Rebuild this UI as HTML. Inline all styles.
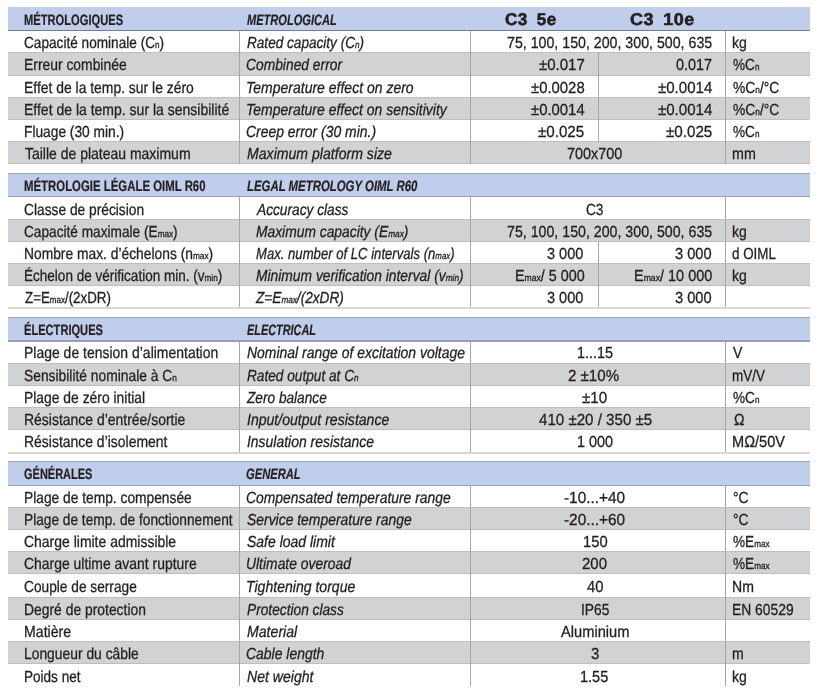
<!DOCTYPE html>
<html lang="fr">
<head>
<meta charset="utf-8">
<title>Caractéristiques techniques</title>
<style>
html,body{margin:0;padding:0;background:#fff;}
body{width:817px;height:691px;position:relative;overflow:hidden;font-family:"Liberation Sans",sans-serif;color:#231f20;}
.hd{position:absolute;left:8px;width:802px;background:#c0cdeb;box-sizing:border-box;border-top:1px solid #a0a8bc;border-bottom:1px solid #97a0b6;}
.hd.first{border-top:0;border-bottom-color:#767c8a;}
.g{position:absolute;left:8px;width:802px;background:#d1d2d4;box-sizing:border-box;border-top:1px solid #bcbec0;border-bottom:1px solid #bcbec0;}
.e{position:absolute;left:8px;width:802px;background:#d6d7d9;}
.v{position:absolute;width:1px;background:#a4a6a8;}
.t{position:absolute;white-space:nowrap;display:inline-block;line-height:1;transform-origin:0 50%;font-size:16.0px;-webkit-text-stroke:0.3px #231f20;}
.i{font-style:italic;}
.h{font-size:15.0px;font-weight:bold;-webkit-text-stroke:0.2px #231f20;}
.m{font-size:17.0px;font-weight:bold;word-spacing:3.5px;letter-spacing:0.5px;-webkit-text-stroke:0.55px #231f20;}
sub{font-size:60%;vertical-align:baseline;line-height:0;}
</style>
</head>
<body>
<div class="hd first" style="top:7px;height:24px;border-bottom-width:1px"></div>
<div class="g" style="top:52px;height:24px"></div>
<div class="g" style="top:97px;height:23px"></div>
<div class="g" style="top:141px;height:23px"></div>
<div class="v" style="left:598px;top:52px;height:24px"></div>
<div class="v" style="left:598px;top:76px;height:21px"></div>
<div class="v" style="left:598px;top:97px;height:23px"></div>
<div class="v" style="left:598px;top:120px;height:21px"></div>
<div class="v" style="left:239px;top:31px;height:133px"></div>
<div class="v" style="left:470px;top:31px;height:133px"></div>
<div class="v" style="left:725px;top:31px;height:133px"></div>
<div class="hd" style="top:173px;height:24px;border-bottom-width:1px"></div>
<div class="g" style="top:219px;height:23px"></div>
<div class="g" style="top:263px;height:23px"></div>
<div class="e" style="top:307px;height:2px"></div>
<div class="v" style="left:598px;top:242px;height:21px"></div>
<div class="v" style="left:598px;top:263px;height:23px"></div>
<div class="v" style="left:598px;top:286px;height:21px"></div>
<div class="v" style="left:239px;top:197px;height:110px"></div>
<div class="v" style="left:470px;top:197px;height:110px"></div>
<div class="v" style="left:725px;top:197px;height:110px"></div>
<div class="hd" style="top:317px;height:25px;border-bottom-width:2px"></div>
<div class="g" style="top:363px;height:23px"></div>
<div class="g" style="top:407px;height:23px"></div>
<div class="e" style="top:452px;height:2px"></div>
<div class="v" style="left:239px;top:342px;height:110px"></div>
<div class="v" style="left:470px;top:342px;height:110px"></div>
<div class="v" style="left:725px;top:342px;height:110px"></div>
<div class="hd" style="top:461px;height:25px;border-bottom-width:1px"></div>
<div class="g" style="top:507px;height:23px"></div>
<div class="g" style="top:551px;height:23px"></div>
<div class="g" style="top:597px;height:23px"></div>
<div class="g" style="top:641px;height:23px"></div>
<div class="v" style="left:239px;top:486px;height:200px"></div>
<div class="v" style="left:470px;top:486px;height:200px"></div>
<div class="v" style="left:725px;top:486px;height:200px"></div>
<span class="t h" style="left:23.76px;top:12px;transform:scaleX(0.7439) rotate(0.03deg)">MÉTROLOGIQUES</span>
<span class="t h i" style="left:246.9px;top:12px;transform:scaleX(0.7380) rotate(0.03deg)">METROLOGICAL</span>
<span class="t m" style="left:505px;top:11px;transform:scaleX(1.0059) rotate(0.03deg)">C3 5e</span>
<span class="t m" style="left:629.9px;top:11px;transform:scaleX(1.0583) rotate(0.03deg)">C3 10e</span>
<span class="t " style="left:23.65px;top:35px;transform:scaleX(0.8515) rotate(0.03deg)">Capacité nominale (C<sub>n</sub>)</span>
<span class="t i" style="left:246.9px;top:35px;transform:scaleX(0.8496) rotate(0.03deg)">Rated capacity (C<sub>n</sub>)</span>
<span class="t " style="left:506.71px;top:35px;transform:scaleX(0.8870) rotate(0.03deg)">75, 100, 150, 200, 300, 500, 635</span>
<span class="t " style="left:732.12px;top:35px;transform:scaleX(0.8800) rotate(0.03deg)">kg</span>
<span class="t " style="left:23.63px;top:57px;transform:scaleX(0.8675) rotate(0.03deg)">Erreur combinée</span>
<span class="t i" style="left:246.04px;top:57px;transform:scaleX(0.8640) rotate(0.03deg)">Combined error</span>
<span class="t " style="left:538.7px;top:57px;transform:scaleX(0.9375) rotate(0.03deg)">±0.017</span>
<span class="t " style="left:675.55px;top:57px;transform:scaleX(0.9013) rotate(0.03deg)">0.017</span>
<span class="t " style="left:733px;top:57px;transform:scaleX(0.8506) rotate(0.03deg)">%C<sub>n</sub></span>
<span class="t " style="left:23.63px;top:80px;transform:scaleX(0.8691) rotate(0.03deg)">Effet de la temp. sur le zéro</span>
<span class="t i" style="left:246.02px;top:80px;transform:scaleX(0.8753) rotate(0.03deg)">Temperature effect on zero</span>
<span class="t " style="left:530.7px;top:80px;transform:scaleX(0.9298) rotate(0.03deg)">±0.0028</span>
<span class="t " style="left:658px;top:80px;transform:scaleX(0.9404) rotate(0.03deg)">±0.0014</span>
<span class="t " style="left:733px;top:80px;transform:scaleX(0.8660) rotate(0.03deg)">%C<sub>n</sub>/°C</span>
<span class="t " style="left:23.62px;top:102px;transform:scaleX(0.8751) rotate(0.03deg)">Effet de la temp. sur la sensibilité</span>
<span class="t i" style="left:246.03px;top:102px;transform:scaleX(0.8739) rotate(0.03deg)">Temperature effect on sensitivity</span>
<span class="t " style="left:530.7px;top:102px;transform:scaleX(0.9298) rotate(0.03deg)">±0.0014</span>
<span class="t " style="left:658px;top:102px;transform:scaleX(0.9404) rotate(0.03deg)">±0.0014</span>
<span class="t " style="left:733px;top:102px;transform:scaleX(0.8660) rotate(0.03deg)">%C<sub>n</sub>/°C</span>
<span class="t " style="left:23.64px;top:124px;transform:scaleX(0.8591) rotate(0.03deg)">Fluage (30 min.)</span>
<span class="t i" style="left:246.03px;top:124px;transform:scaleX(0.8709) rotate(0.03deg)">Creep error (30 min.)</span>
<span class="t " style="left:538.3px;top:124px;transform:scaleX(0.9458) rotate(0.03deg)">±0.025</span>
<span class="t " style="left:666.1px;top:124px;transform:scaleX(0.9479) rotate(0.03deg)">±0.025</span>
<span class="t " style="left:733px;top:124px;transform:scaleX(0.8506) rotate(0.03deg)">%C<sub>n</sub></span>
<span class="t " style="left:24.5px;top:146px;transform:scaleX(0.8739) rotate(0.03deg)">Taille de plateau maximum</span>
<span class="t i" style="left:246.9px;top:146px;transform:scaleX(0.8811) rotate(0.03deg)">Maximum platform size</span>
<span class="t " style="left:566.8px;top:146px;transform:scaleX(0.9000) rotate(0.03deg)">700x700</span>
<span class="t " style="left:732.11px;top:146px;transform:scaleX(0.8916) rotate(0.03deg)">mm</span>
<span class="t h" style="left:23.74px;top:178px;transform:scaleX(0.7599) rotate(0.03deg)">MÉTROLOGIE LÉGALE OIML R60</span>
<span class="t h i" style="left:246.9px;top:178px;transform:scaleX(0.7603) rotate(0.03deg)">LEGAL METROLOGY OIML R60</span>
<span class="t " style="left:23.64px;top:202px;transform:scaleX(0.8601) rotate(0.03deg)">Classe de précision</span>
<span class="t i" style="left:256.96px;top:202px;transform:scaleX(0.8570) rotate(0.03deg)">Accuracy class</span>
<span class="t " style="left:586.08px;top:202px;transform:scaleX(0.8547) rotate(0.03deg)">C3</span>
<span class="t " style="left:23.65px;top:224px;transform:scaleX(0.8539) rotate(0.03deg)">Capacité maximale (E<sub>max</sub>)</span>
<span class="t i" style="left:256.1px;top:224px;transform:scaleX(0.8642) rotate(0.03deg)">Maximum capacity (E<sub>max</sub>)</span>
<span class="t " style="left:506.71px;top:224px;transform:scaleX(0.8870) rotate(0.03deg)">75, 100, 150, 200, 300, 500, 635</span>
<span class="t " style="left:732.12px;top:224px;transform:scaleX(0.8800) rotate(0.03deg)">kg</span>
<span class="t " style="left:23.64px;top:246px;transform:scaleX(0.8636) rotate(0.03deg)">Nombre max. d’échelons (n<sub>max</sub>)</span>
<span class="t i" style="left:256.1px;top:246px;transform:scaleX(0.8198) rotate(0.03deg)">Max. number of LC intervals (n<sub>max</sub>)</span>
<span class="t " style="left:547.45px;top:246px;transform:scaleX(0.9062) rotate(0.03deg)">3 000</span>
<span class="t " style="left:675.04px;top:246px;transform:scaleX(0.9139) rotate(0.03deg)">3 000</span>
<span class="t " style="left:732.16px;top:246px;transform:scaleX(0.8373) rotate(0.03deg)">d OIML</span>
<span class="t " style="left:23.65px;top:268px;transform:scaleX(0.8461) rotate(0.03deg)">Échelon de vérification min. (v<sub>min</sub>)</span>
<span class="t i" style="left:256.1px;top:268px;transform:scaleX(0.8637) rotate(0.03deg)">Minimum verification interval (v<sub>min</sub>)</span>
<span class="t " style="left:514.6px;top:268px;transform:scaleX(0.8974) rotate(0.03deg)">E<sub>max</sub>/ 5 000</span>
<span class="t " style="left:633.9px;top:268px;transform:scaleX(0.9035) rotate(0.03deg)">E<sub>max</sub>/ 10 000</span>
<span class="t " style="left:732.12px;top:268px;transform:scaleX(0.8800) rotate(0.03deg)">kg</span>
<span class="t " style="left:24.5px;top:290px;transform:scaleX(0.8333) rotate(0.03deg)">Z=E<sub>max</sub>/(2xDR)</span>
<span class="t i" style="left:256.1px;top:290px;transform:scaleX(0.8529) rotate(0.03deg)">Z=E<sub>max</sub>/(2xDR)</span>
<span class="t " style="left:547.45px;top:290px;transform:scaleX(0.9062) rotate(0.03deg)">3 000</span>
<span class="t " style="left:675.04px;top:290px;transform:scaleX(0.9139) rotate(0.03deg)">3 000</span>
<span class="t h" style="left:23.76px;top:322px;transform:scaleX(0.7400) rotate(0.03deg)">ÉLECTRIQUES</span>
<span class="t h i" style="left:246.9px;top:322px;transform:scaleX(0.7255) rotate(0.03deg)">ELECTRICAL</span>
<span class="t " style="left:23.63px;top:345px;transform:scaleX(0.8733) rotate(0.03deg)">Plage de tension d’alimentation</span>
<span class="t i" style="left:246.9px;top:345px;transform:scaleX(0.8723) rotate(0.03deg)">Nominal range of excitation voltage</span>
<span class="t " style="left:576.64px;top:345px;transform:scaleX(0.9004) rotate(0.03deg)">1...15</span>
<span class="t " style="left:733px;top:345px;transform:scaleX(0.8761) rotate(0.03deg)">V</span>
<span class="t " style="left:23.64px;top:368px;transform:scaleX(0.8636) rotate(0.03deg)">Sensibilité nominale à C<sub>n</sub></span>
<span class="t i" style="left:246.9px;top:368px;transform:scaleX(0.8534) rotate(0.03deg)">Rated output at C<sub>n</sub></span>
<span class="t " style="left:568.46px;top:368px;transform:scaleX(0.9434) rotate(0.03deg)">2 ±10%</span>
<span class="t " style="left:732.16px;top:368px;transform:scaleX(0.8426) rotate(0.03deg)">mV/V</span>
<span class="t " style="left:23.63px;top:390px;transform:scaleX(0.8674) rotate(0.03deg)">Plage de zéro initial</span>
<span class="t i" style="left:246.9px;top:390px;transform:scaleX(0.8538) rotate(0.03deg)">Zero balance</span>
<span class="t " style="left:582.48px;top:390px;transform:scaleX(0.9436) rotate(0.03deg)">±10</span>
<span class="t " style="left:733px;top:390px;transform:scaleX(0.8506) rotate(0.03deg)">%C<sub>n</sub></span>
<span class="t " style="left:23.63px;top:412px;transform:scaleX(0.8721) rotate(0.03deg)">Résistance d’entrée/sortie</span>
<span class="t i" style="left:246.9px;top:412px;transform:scaleX(0.8789) rotate(0.03deg)">Input/output resistance</span>
<span class="t " style="left:538.7px;top:412px;transform:scaleX(0.9445) rotate(0.03deg)">410 ±20 / 350 ±5</span>
<span class="t " style="left:733.5px;top:412px;transform:scaleX(0.8799) rotate(0.03deg)">Ω</span>
<span class="t " style="left:23.63px;top:434px;transform:scaleX(0.8718) rotate(0.03deg)">Résistance d’isolement</span>
<span class="t i" style="left:246.9px;top:434px;transform:scaleX(0.8710) rotate(0.03deg)">Insulation resistance</span>
<span class="t " style="left:576.64px;top:434px;transform:scaleX(0.9004) rotate(0.03deg)">1 000</span>
<span class="t " style="left:732.09px;top:434px;transform:scaleX(0.9123) rotate(0.03deg)">MΩ/50V</span>
<span class="t h" style="left:23.77px;top:466px;transform:scaleX(0.7326) rotate(0.03deg)">GÉNÉRALES</span>
<span class="t h i" style="left:246.15px;top:466px;transform:scaleX(0.7451) rotate(0.03deg)">GENERAL</span>
<span class="t " style="left:23.64px;top:490px;transform:scaleX(0.8611) rotate(0.03deg)">Plage de temp. compensée</span>
<span class="t i" style="left:246.03px;top:490px;transform:scaleX(0.8688) rotate(0.03deg)">Compensated temperature range</span>
<span class="t " style="left:564.14px;top:490px;transform:scaleX(0.9613) rotate(0.03deg)">-10...+40</span>
<span class="t " style="left:732.73px;top:490px;transform:scaleX(0.8698) rotate(0.03deg)">°C</span>
<span class="t " style="left:23.64px;top:512px;transform:scaleX(0.8560) rotate(0.03deg)">Plage de temp. de fonctionnement</span>
<span class="t i" style="left:246.9px;top:512px;transform:scaleX(0.8693) rotate(0.03deg)">Service temperature range</span>
<span class="t " style="left:564.14px;top:512px;transform:scaleX(0.9613) rotate(0.03deg)">-20...+60</span>
<span class="t " style="left:732.73px;top:512px;transform:scaleX(0.8698) rotate(0.03deg)">°C</span>
<span class="t " style="left:23.63px;top:534px;transform:scaleX(0.8728) rotate(0.03deg)">Charge limite admissible</span>
<span class="t i" style="left:246.9px;top:534px;transform:scaleX(0.8743) rotate(0.03deg)">Safe load limit</span>
<span class="t " style="left:582.6px;top:534px;transform:scaleX(0.9222) rotate(0.03deg)">150</span>
<span class="t " style="left:733px;top:534px;transform:scaleX(0.8486) rotate(0.03deg)">%E<sub>max</sub></span>
<span class="t " style="left:23.63px;top:556px;transform:scaleX(0.8706) rotate(0.03deg)">Charge ultime avant rupture</span>
<span class="t i" style="left:246.03px;top:556px;transform:scaleX(0.8683) rotate(0.03deg)">Ultimate overoad</span>
<span class="t " style="left:582.23px;top:556px;transform:scaleX(0.9346) rotate(0.03deg)">200</span>
<span class="t " style="left:733px;top:556px;transform:scaleX(0.8486) rotate(0.03deg)">%E<sub>max</sub></span>
<span class="t " style="left:23.64px;top:579px;transform:scaleX(0.8569) rotate(0.03deg)">Couple de serrage</span>
<span class="t i" style="left:246.02px;top:579px;transform:scaleX(0.8789) rotate(0.03deg)">Tightening torque</span>
<span class="t " style="left:586.85px;top:579px;transform:scaleX(0.9240) rotate(0.03deg)">40</span>
<span class="t " style="left:732.12px;top:579px;transform:scaleX(0.8801) rotate(0.03deg)">Nm</span>
<span class="t " style="left:23.63px;top:602px;transform:scaleX(0.8676) rotate(0.03deg)">Degré de protection</span>
<span class="t i" style="left:246.9px;top:602px;transform:scaleX(0.8575) rotate(0.03deg)">Protection class</span>
<span class="t " style="left:580.64px;top:602px;transform:scaleX(0.8643) rotate(0.03deg)">IP65</span>
<span class="t " style="left:732.13px;top:602px;transform:scaleX(0.8657) rotate(0.03deg)">EN 60529</span>
<span class="t " style="left:23.62px;top:624px;transform:scaleX(0.8846) rotate(0.03deg)">Matière</span>
<span class="t i" style="left:246.9px;top:624px;transform:scaleX(0.8825) rotate(0.03deg)">Material</span>
<span class="t " style="left:560.5px;top:624px;transform:scaleX(0.9162) rotate(0.03deg)">Aluminium</span>
<span class="t " style="left:23.63px;top:646px;transform:scaleX(0.8656) rotate(0.03deg)">Longueur du câble</span>
<span class="t i" style="left:246.03px;top:646px;transform:scaleX(0.8716) rotate(0.03deg)">Cable length</span>
<span class="t " style="left:590.57px;top:646px;transform:scaleX(0.9292) rotate(0.03deg)">3</span>
<span class="t " style="left:732.12px;top:646px;transform:scaleX(0.8799) rotate(0.03deg)">m</span>
<span class="t " style="left:23.65px;top:669px;transform:scaleX(0.8470) rotate(0.03deg)">Poids net</span>
<span class="t i" style="left:246.9px;top:669px;transform:scaleX(0.8789) rotate(0.03deg)">Net weight</span>
<span class="t " style="left:580.37px;top:669px;transform:scaleX(0.9080) rotate(0.03deg)">1.55</span>
<span class="t " style="left:732.12px;top:669px;transform:scaleX(0.8800) rotate(0.03deg)">kg</span>
</body>
</html>
